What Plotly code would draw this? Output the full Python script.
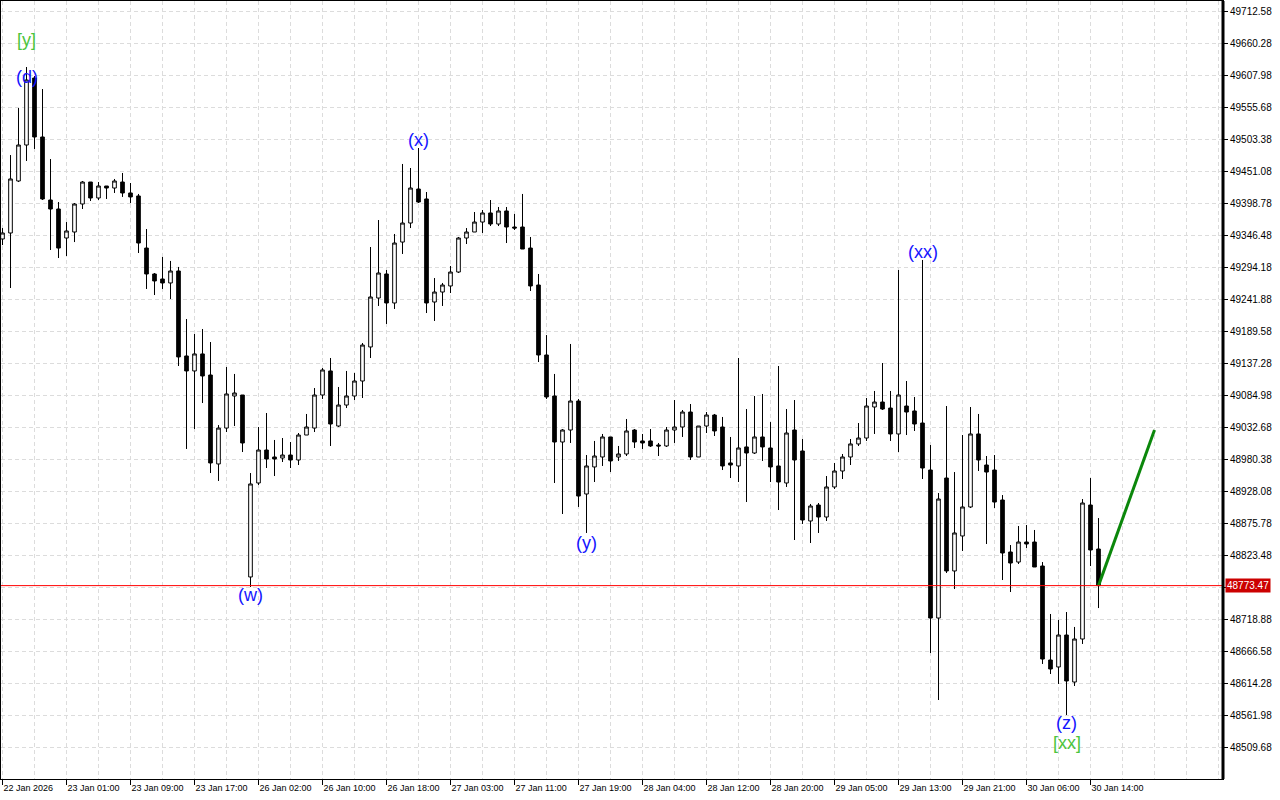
import plotly.graph_objects as go

highs = [49357.9, 49477.2, 49554.1, 49621.1, 49606.4, 49585.1, 49470.7, 49400.4, 49367.7, 49398.8,
         49434.8, 49433.1, 49433.1, 49426.6, 49438.1, 49447.9, 49431.5, 49413.6, 49356.3, 49284.4,
         49310.6, 49304.1, 49294.3, 49209.2, 49184.7, 49192.9, 49171.6, 49035.9, 49130.8, 49119.4,
         49085.0, 48957.5, 49032.7, 49055.6, 49011.5, 49014.7, 49008.2, 49022.9, 49054.0, 49096.4,
         49129.1, 49145.5, 49098.1, 49124.3, 49121.0, 49170.0, 49326.9, 49371.0, 49289.3, 49348.2,
         49462.6, 49456.0, 49488.7, 49416.8, 49276.2, 49268.1, 49295.9, 49343.3, 49357.9, 49384.1,
         49387.4, 49403.7, 49392.3, 49392.3, 49380.9, 49413.6, 49343.3, 49282.8, 49183.0, 49119.4,
         49029.4, 49168.4, 49078.5, 48986.9, 49009.9, 49021.3, 49016.4, 49001.7, 49045.8, 49029.4,
         49021.3, 49029.4, 49006.6, 49032.7, 49076.8, 49060.5, 49070.3, 49034.3, 49057.2, 49054.0,
         49049.1, 49016.4, 49145.5, 49062.1, 49083.4, 49086.7, 49040.8, 49132.4, 49062.1, 49076.8,
         49013.1, 48906.9, 48908.5, 48952.6, 48973.9, 48988.6, 49013.1, 49039.2, 49080.1, 49091.6,
         49137.3, 49091.6, 49289.3, 49107.9, 49081.8, 49305.7, 49003.3, 48924.8, 49067.0, 48959.1,
         49019.6, 49065.4, 49054.0, 48985.3, 48986.9, 48921.5, 48839.8, 48870.9, 48872.5, 48864.4,
         48812.0, 48727.1, 48717.3, 48730.3, 48705.9, 48915.0, 48949.3, 48883.9]
opens = [49340.0, 49349.8, 49434.8, 49493.6, 49603.1, 49506.7, 49403.7, 49389.0, 49341.6, 49351.4,
         49397.2, 49433.1, 49407.0, 49426.6, 49423.3, 49433.1, 49415.2, 49410.3, 49325.2, 49282.8,
         49274.6, 49268.1, 49287.7, 49148.8, 49124.3, 49152.1, 49117.7, 48972.3, 49031.0, 49083.4,
         49085.0, 48787.6, 48941.2, 48995.1, 48983.7, 48982.0, 48986.9, 48978.8, 49019.6, 49031.0,
         49085.0, 49124.3, 49034.3, 49068.6, 49083.4, 49107.9, 49163.5, 49243.5, 49282.8, 49235.4,
         49335.0, 49366.1, 49421.7, 49405.4, 49237.0, 49253.3, 49263.2, 49286.0, 49341.6, 49351.4,
         49367.7, 49382.5, 49364.5, 49385.8, 49359.6, 49359.6, 49325.2, 49264.8, 49150.4, 49083.4,
         49008.2, 49027.8, 49075.2, 48923.2, 48967.4, 48983.7, 49016.4, 48983.7, 48988.6, 49027.8,
         49009.9, 49009.9, 49003.3, 49001.7, 49027.8, 49032.7, 49057.2, 48983.7, 49034.3, 49052.3,
         49032.7, 48973.9, 48969.0, 49000.1, 48990.2, 49016.4, 48998.4, 48969.0, 48941.2, 49027.8,
         48993.5, 48879.1, 48905.2, 48885.6, 48934.7, 48960.8, 48983.7, 49005.0, 49014.7, 49065.4,
         49073.5, 49063.7, 49021.3, 49067.0, 49058.9, 49039.2, 48962.4, 48720.5, 48949.3, 48797.4,
         48854.6, 48902.0, 49021.3, 48970.6, 48962.4, 48913.4, 48828.4, 48812.0, 48844.7, 48844.7,
         48805.5, 48651.9, 48640.5, 48692.7, 48615.9, 48686.2, 48905.2, 48833.3]
closes = [49349.8, 49438.1, 49493.6, 49599.8, 49506.7, 49405.4, 49389.0, 49325.2, 49353.1, 49397.2,
          49433.1, 49407.0, 49426.6, 49423.3, 49434.8, 49415.2, 49408.7, 49333.4, 49282.8, 49271.4,
          49268.1, 49287.7, 49147.2, 49124.3, 49152.1, 49116.1, 48973.9, 49031.0, 49086.7, 49088.3,
          49006.6, 48939.6, 48995.1, 48980.4, 48980.4, 48986.9, 48978.8, 49019.6, 49032.7, 49085.0,
          49125.9, 49037.6, 49068.6, 49083.4, 49107.9, 49166.7, 49245.2, 49284.4, 49235.4, 49333.4,
          49366.1, 49423.3, 49400.4, 49235.4, 49253.3, 49264.8, 49286.0, 49341.6, 49351.4, 49367.7,
          49382.5, 49364.5, 49385.8, 49359.6, 49357.9, 49323.6, 49263.2, 49150.4, 49081.8, 49008.2,
          49027.8, 49075.2, 48919.9, 48969.0, 48985.3, 49016.4, 48977.2, 48988.6, 49026.2, 49008.2,
          49006.6, 49001.7, 49001.7, 49027.8, 49032.7, 49057.2, 48983.7, 49034.3, 49052.3, 49026.2,
          48969.0, 48970.6, 48998.4, 48990.2, 49016.4, 49000.1, 48967.4, 48942.8, 49022.9, 48978.8,
          48880.7, 48903.6, 48885.6, 48934.7, 48960.8, 48983.7, 49005.0, 49014.7, 49067.0, 49073.5,
          49062.1, 49021.3, 49085.0, 49057.2, 49037.6, 48965.7, 48720.5, 48915.0, 48797.4, 48859.5,
          48902.0, 49021.3, 48978.8, 48959.1, 48910.1, 48826.8, 48810.4, 48844.7, 48841.5, 48803.9,
          48653.5, 48637.2, 48692.7, 48617.6, 48686.2, 48908.5, 48831.7, 48773.47]
lows = [49330.1, 49259.9, 49433.1, 49467.5, 49487.1, 49403.7, 49322.0, 49308.9, 49312.2, 49335.0,
        49389.0, 49402.1, 49403.7, 49405.4, 49415.2, 49408.7, 49398.8, 49317.1, 49258.3, 49248.4,
        49258.3, 49241.9, 49132.4, 48996.8, 49029.4, 49071.9, 48957.5, 48944.5, 49024.5, 49034.3,
        48991.8, 48771.2, 48937.9, 48965.7, 48952.6, 48975.5, 48965.7, 48970.6, 49019.6, 49024.5,
        49078.5, 49001.7, 49032.7, 49063.7, 49076.8, 49080.1, 49145.5, 49230.5, 49201.1, 49225.6,
        49315.5, 49357.9, 49398.8, 49219.0, 49206.0, 49230.5, 49251.7, 49284.4, 49331.8, 49351.4,
        49349.8, 49361.2, 49361.2, 49333.4, 49354.7, 49323.6, 49255.0, 49138.9, 49078.5, 48941.2,
        48890.5, 49006.6, 48902.0, 48859.5, 48942.8, 48969.0, 48959.1, 48977.2, 48985.3, 48998.4,
        48996.8, 49000.1, 48985.3, 49000.1, 49006.6, 49016.4, 48978.8, 48983.7, 49022.9, 49018.0,
        48962.4, 48949.3, 48942.8, 48910.1, 48988.6, 48977.2, 48942.8, 48897.0, 48934.7, 48848.0,
        48874.2, 48843.1, 48859.5, 48879.1, 48931.4, 48947.7, 48970.6, 49001.7, 49009.9, 49021.3,
        49060.5, 49009.9, 48991.8, 49019.6, 49026.2, 48947.7, 48663.3, 48586.5, 48794.1, 48767.9,
        48830.1, 48900.3, 48960.8, 48841.5, 48900.3, 48782.6, 48763.0, 48808.8, 48834.9, 48803.9,
        48645.4, 48629.0, 48612.7, 48562.0, 48609.4, 48678.1, 48805.5, 48736.8]

bar_index = list(range(len(closes)))

time_tick_index = [0, 8, 16, 24, 32, 40, 48, 56, 64, 72, 80, 88, 96, 104, 112, 120, 128, 136]
time_tick_labels = ["22 Jan 2026", "23 Jan 01:00", "23 Jan 09:00", "23 Jan 17:00", "26 Jan 02:00",
                    "26 Jan 10:00", "26 Jan 18:00", "27 Jan 03:00", "27 Jan 11:00", "27 Jan 19:00",
                    "28 Jan 04:00", "28 Jan 12:00", "28 Jan 20:00", "29 Jan 05:00", "29 Jan 13:00",
                    "29 Jan 21:00", "30 Jan 06:00", "30 Jan 14:00"]

price_ticks = [48509.68, 48561.98, 48614.28, 48666.58, 48718.88, 48771.18, 48823.48, 48875.78,
               48928.08, 48980.38, 49032.68, 49084.98, 49137.28, 49189.58, 49241.88, 49294.18,
               49346.48, 49398.78, 49451.08, 49503.38, 49555.68, 49607.98, 49660.28, 49712.58]
price_tick_labels = ["" if abs(v - 48771.18) < 0.01 else f"{v:.2f}" for v in price_ticks]

current_price = 48773.47

wave_labels = ["[y]", "(d)", "(x)", "(w)", "(y)", "(xx)", "(z)", "[xx]"]
wave_x = [3, 3, 52, 31, 73, 115, 133, 133]
wave_y = [49665.2, 49604.7, 49501.8, 48758.1, 48843.1, 49318.7, 48548.9, 48516.2]
wave_colors = ["#4cc43c", "#1414ff", "#1414ff", "#1414ff", "#1414ff", "#1414ff", "#1414ff", "#4cc43c"]

forecast_x = [137, 144]
forecast_y = [48773.47, 49027.8]

fig = go.Figure()
fig.add_trace(go.Candlestick(
    x=bar_index, open=opens, high=highs, low=lows, close=closes,
    increasing=dict(line=dict(color="black", width=1), fillcolor="white"),
    decreasing=dict(line=dict(color="black", width=1), fillcolor="black"),
    whiskerwidth=0, showlegend=False, hoverinfo="skip",
))
fig.add_trace(go.Scatter(
    x=forecast_x, y=forecast_y, mode="lines",
    line=dict(color="#0b870b", width=3), showlegend=False, hoverinfo="skip",
))

for t, xx, yy, cc in zip(wave_labels, wave_x, wave_y, wave_colors):
    fig.add_annotation(x=xx, y=yy, text=t, showarrow=False,
                       font=dict(family="Liberation Sans", size=18, color=cc))

fig.add_shape(type="line", xref="paper", x0=0, x1=1, yref="y", y0=current_price, y1=current_price,
              line=dict(color="#ff0000", width=1), layer="above")
fig.add_shape(type="line", xref="paper", x0=1, x1=1, yref="paper", y0=0, y1=1,
              line=dict(color="black", width=3), layer="above")
fig.add_annotation(xref="paper", x=1, xanchor="left", xshift=2, y=current_price, yref="y",
                   text=f"{current_price:.2f}", showarrow=False, bgcolor="#cc0000",
                   font=dict(family="Liberation Sans", size=10, color="white"), borderpad=1)

grid_color = "#dcdcdc"
fig.update_layout(
    width=1280, height=800,
    margin=dict(l=1, r=57, t=1, b=21),
    paper_bgcolor="white", plot_bgcolor="white",
    boxgap=0.35,
    xaxis=dict(
        range=[-0.1875, 152.5625], rangeslider=dict(visible=False),
        tickmode="array", tickvals=time_tick_index, ticktext=time_tick_labels,
        ticks="outside", ticklen=5, tickcolor="black",
        ticklabelposition="outside right",
        tickfont=dict(family="Liberation Sans", size=9, color="black"),
        showgrid=True, gridcolor=grid_color, griddash="4px,3px", gridwidth=1,
        minor=dict(tickmode="linear", tick0=0, dtick=4, showgrid=True, gridcolor=grid_color,
                   griddash="4px,3px", ticklen=0),
        showline=True, linecolor="black", linewidth=1, mirror=True,
        zeroline=False, fixedrange=True,
    ),
    yaxis=dict(
        side="right", range=[48457.4, 49728.97],
        tickmode="array", tickvals=price_ticks, ticktext=price_tick_labels,
        ticks="outside", ticklen=4, tickcolor="black",
        tickfont=dict(family="Liberation Sans", size=10, color="black"),
        showgrid=True, gridcolor=grid_color, griddash="4px,3px", gridwidth=1,
        showline=True, linecolor="black", linewidth=1, mirror=True,
        zeroline=False, fixedrange=True,
    ),
)

fig.write_html("out.html", config={"displayModeBar": False},
               post_script="document.body.style.margin='0';document.body.style.overflow='hidden';")
